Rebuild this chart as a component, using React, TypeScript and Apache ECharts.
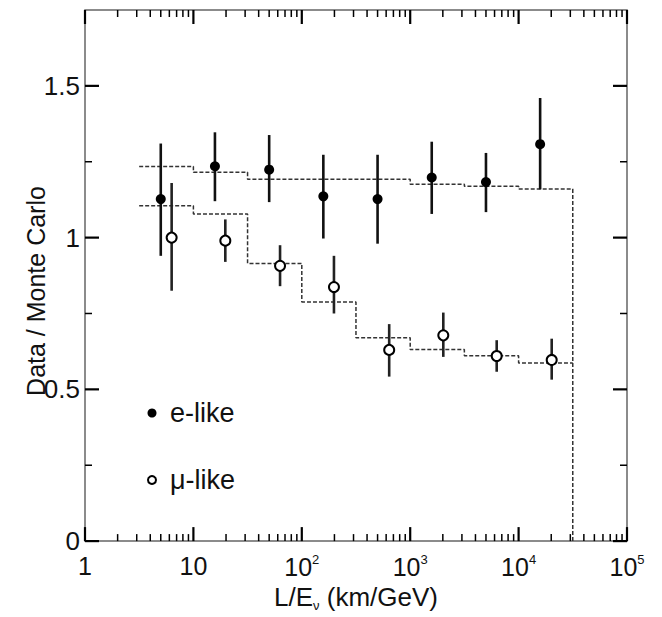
import React, { useEffect, useRef } from "react";
import * as echarts from "echarts";

// ---- data ----
const eX = [5.0, 15.8, 50, 158, 500, 1580, 5000, 15800];
const eY = [1.127, 1.235, 1.224, 1.136, 1.127, 1.198, 1.183, 1.308];
const eLow = [0.94, 1.12, 1.117, 0.997, 0.98, 1.078, 1.084, 1.159];
const eHigh = [1.31, 1.347, 1.338, 1.273, 1.273, 1.316, 1.279, 1.46];

const muX = [6.3, 19.7, 63, 198, 640, 2020, 6280, 20200];
const muY = [1.0, 0.99, 0.907, 0.837, 0.63, 0.678, 0.61, 0.597];
const muLow = [0.825, 0.92, 0.84, 0.75, 0.542, 0.607, 0.558, 0.532];
const muHigh = [1.18, 1.06, 0.975, 0.94, 0.715, 0.753, 0.662, 0.667];

const mcEdges = [3.16, 10, 31.6, 100, 316, 1000, 3160, 10000, 31600];
const mcE = [1.234, 1.215, 1.192, 1.192, 1.192, 1.176, 1.169, 1.16];
const mcMu = [1.105, 1.078, 0.915, 0.788, 0.67, 0.631, 0.611, 0.587];

const xDecades = [1, 10, 100, 1000, 10000, 100000];
const xTickLabels = ["1", "10", "10{sup|2}", "10{sup|3}", "10{sup|4}", "10{sup|5}"];
const xMinorMultipliers = [2, 3, 4, 5, 6, 7, 8, 9];
const yMajor = [0, 0.5, 1, 1.5];
const yMinor = [0.25, 0.75, 1.25];
const yTickLabels = ["0", "0.5", "1", "1.5"];

const X_MIN = 1;
const X_MAX = 100000;
const Y_MIN = 0;
const Y_MAX = 1.75;

const FONT = "'Liberation Sans', Arial, Helvetica, sans-serif";

function stepLine(vals: number[], drop: boolean) {
  const pts: number[][] = vals.map((v, i) => [mcEdges[i], v]);
  pts.push([mcEdges[mcEdges.length - 1], vals[vals.length - 1]]);
  if (drop) pts.push([mcEdges[mcEdges.length - 1], 0]);
  return pts;
}

export default function App() {
  const ref = useRef<HTMLDivElement>(null);

  useEffect(() => {
    if (!ref.current) return;
    const chart = echarts.init(ref.current, undefined, { renderer: "svg" });

    const tickData: number[][] = [];
    xDecades.forEach((v) => tickData.push([v, Y_MIN, 0]));
    xDecades.slice(0, -1).forEach((d) =>
      xMinorMultipliers.forEach((m) => tickData.push([m * d, Y_MIN, 1]))
    );
    yMajor.forEach((v) => tickData.push([X_MIN, v, 2]));
    yMinor.forEach((v) => tickData.push([X_MIN, v, 3]));

    const tickStroke = "#000";

    const option: any = {
      animation: false,
      backgroundColor: "#fff",
      textStyle: { fontFamily: FONT },
      grid: {
        left: 85,
        right: 35,
        top: 10,
        bottom: 70,
        show: true,
        borderColor: "#666",
        borderWidth: 1.5,
      },
      xAxis: {
        type: "log",
        logBase: 10,
        min: X_MIN,
        max: X_MAX,
        name: "{a|L/E}{s|ν}{a| (km/GeV)}",
        nameLocation: "middle",
        nameGap: 34,
        nameTextStyle: {
          rich: {
            a: { fontSize: 26, fontFamily: FONT, color: "#111", lineHeight: 30 },
            s: { fontSize: 13, fontFamily: FONT, color: "#111", lineHeight: 30, verticalAlign: "bottom", padding: [12, 0, 0, 0] },
          },
        },
        axisLine: { show: false },
        axisTick: { show: false },
        splitLine: { show: false },
        minorTick: { show: false },
        axisLabel: {
          margin: 12,
          color: "#111",
          formatter: (v: number) => {
            const k = Math.round(Math.log10(v));
            return xTickLabels[k] ?? "";
          },
          rich: {
            sup: { fontSize: 13, fontFamily: FONT, color: "#111", verticalAlign: "top", padding: [0, 0, 14, 0] },
          },
          fontSize: 25,
          fontFamily: FONT,
        },
      },
      yAxis: {
        type: "value",
        min: Y_MIN,
        max: Y_MAX,
        interval: 0.5,
        axisLine: { show: false },
        axisTick: { show: false },
        splitLine: { show: false },
        axisLabel: {
          margin: 5,
          fontSize: 26,
          fontFamily: FONT,
          color: "#111",
          formatter: (v: number) => {
            const i = yMajor.findIndex((m) => Math.abs(m - v) < 1e-6);
            return i >= 0 ? yTickLabels[i] : "";
          },
        },
      },
      graphic: [
        {
          type: "text",
          x: 36,
          y: 291,
          rotation: Math.PI / 2,
          style: {
            text: "Data / Monte Carlo",
            fontSize: 25,
            fontFamily: FONT,
            fill: "#111",
            align: "center",
            verticalAlign: "middle",
          },
        },
        { type: "circle", shape: { cx: 152, cy: 413, r: 4.5 }, style: { fill: "#000" } },
        {
          type: "text",
          x: 170,
          y: 413,
          style: { text: "e-like", fontSize: 27, fontFamily: FONT, fill: "#111", verticalAlign: "middle" },
        },
        { type: "circle", shape: { cx: 152, cy: 480, r: 4 }, style: { fill: "#fff", stroke: "#000", lineWidth: 2 } },
        {
          type: "text",
          x: 170,
          y: 480,
          style: { text: "μ-like", fontSize: 27, fontFamily: FONT, fill: "#111", verticalAlign: "middle" },
        },
      ],
      series: [
        {
          name: "ticks",
          type: "custom",
          silent: true,
          clip: false,
          encode: { x: 0, y: 1 },
          data: tickData,
          renderItem: (params: any, api: any) => {
            const kind = api.value(2);
            if (kind < 2) {
              const v = api.value(0);
              const b = api.coord([v, Y_MIN]);
              const t = api.coord([v, Y_MAX]);
              const len = kind === 0 ? 14 : 7;
              const lw = kind === 0 ? 2.2 : 1.5;
              return {
                type: "group",
                children: [
                  { type: "line", shape: { x1: b[0], y1: b[1], x2: b[0], y2: b[1] - len }, style: { stroke: tickStroke, lineWidth: lw } },
                  { type: "line", shape: { x1: t[0], y1: t[1], x2: t[0], y2: t[1] + len }, style: { stroke: tickStroke, lineWidth: lw } },
                ],
              };
            }
            const v = api.value(1);
            const l = api.coord([X_MIN, v]);
            const r = api.coord([X_MAX, v]);
            const len = kind === 2 ? 14 : 7;
            const lw = kind === 2 ? 2.2 : 1.5;
            return {
              type: "group",
              children: [
                { type: "line", shape: { x1: l[0], y1: l[1], x2: l[0] + len, y2: l[1] }, style: { stroke: tickStroke, lineWidth: lw } },
                { type: "line", shape: { x1: r[0], y1: r[1], x2: r[0] - len, y2: r[1] }, style: { stroke: tickStroke, lineWidth: lw } },
              ],
            };
          },
          z: 1,
        },
        {
          name: "MC e-like",
          type: "line",
          step: "end",
          showSymbol: false,
          data: stepLine(mcE, true),
          lineStyle: { color: "#333", width: 1.5, type: [4, 2] },
          z: 2,
        },
        {
          name: "MC μ-like",
          type: "line",
          step: "end",
          showSymbol: false,
          data: stepLine(mcMu, false),
          lineStyle: { color: "#333", width: 1.5, type: [4, 2] },
          z: 2,
        },
        {
          name: "e-like errors",
          type: "custom",
          encode: { x: 0, y: [1, 2] },
          data: eX.map((x, i) => [x, eLow[i], eHigh[i]]),
          renderItem: (params: any, api: any) => {
            const lo = api.coord([api.value(0), api.value(1)]);
            const hi = api.coord([api.value(0), api.value(2)]);
            return { type: "line", shape: { x1: lo[0], y1: lo[1], x2: hi[0], y2: hi[1] }, style: { stroke: "#111", lineWidth: 2.6 } };
          },
          z: 3,
        },
        {
          name: "μ-like errors",
          type: "custom",
          encode: { x: 0, y: [1, 2] },
          data: muX.map((x, i) => [x, muLow[i], muHigh[i]]),
          renderItem: (params: any, api: any) => {
            const lo = api.coord([api.value(0), api.value(1)]);
            const hi = api.coord([api.value(0), api.value(2)]);
            return { type: "line", shape: { x1: lo[0], y1: lo[1], x2: hi[0], y2: hi[1] }, style: { stroke: "#222", lineWidth: 2.6 } };
          },
          z: 3,
        },
        {
          name: "e-like",
          type: "scatter",
          symbol: "circle",
          symbolSize: 10,
          data: eX.map((x, i) => [x, eY[i]]),
          itemStyle: { color: "#000", opacity: 1 },
          z: 4,
        },
        {
          name: "μ-like",
          type: "scatter",
          symbol: "circle",
          symbolSize: 10,
          data: muX.map((x, i) => [x, muY[i]]),
          itemStyle: { color: "#fff", borderColor: "#000", borderWidth: 2, opacity: 1 },
          z: 4,
        },
      ],
    };

    chart.setOption(option);
    return () => chart.dispose();
  }, []);

  return (
    <div
      ref={ref}
      style={{ position: "absolute", left: 0, top: 0, width: 662, height: 617 }}
    />
  );
}
